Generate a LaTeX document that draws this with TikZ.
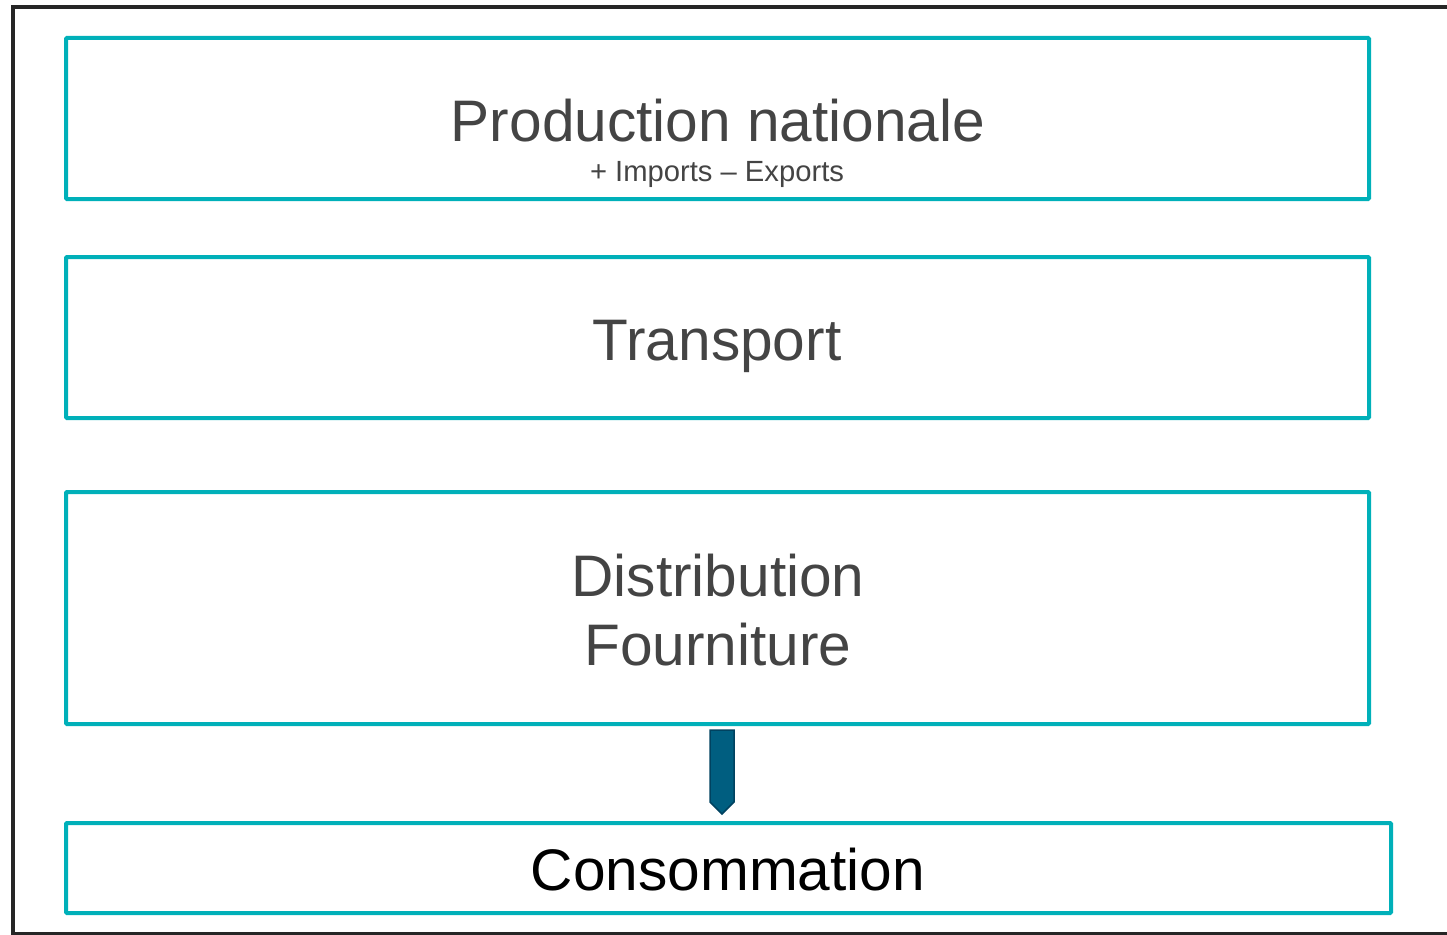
\documentclass[tikz,border=0pt]{standalone}
\usepackage{fontspec}
\setmainfont{Liberation Sans}
\definecolor{tealline}{RGB}{0,176,185}
\definecolor{txtgray}{RGB}{68,68,68}
\definecolor{framedark}{RGB}{38,38,38}
\definecolor{arrowfill}{RGB}{0,94,128}
\definecolor{arrowedge}{RGB}{0,66,96}
\begin{document}
\begin{tikzpicture}[x=1pt,y=-1pt,
  stagebox/.style={draw=tealline,line width=4pt,inner sep=0pt,rounded corners=1pt},
  bigtext/.style={font=\fontsize{58.6}{70}\selectfont,text=txtgray,anchor=base,inner sep=0pt},
  smalltext/.style={font=\fontsize{29.2}{32}\selectfont,text=txtgray,anchor=base,inner sep=0pt}]
\useasboundingbox (0,0) rectangle (1447,934);
\begin{scope}
\clip (0,0) rectangle (1447,934);
\draw[framedark,line width=4pt] (13,1500) -- (13,7.5) -- (1500,7.5);
\draw[framedark,line width=3pt] (13,933) -- (1500,933);
\end{scope}
\node[stagebox,minimum width=1303pt,minimum height=161pt] (prod) at (717.5,118.5) {};
\node[stagebox,minimum width=1303pt,minimum height=161pt] (trans) at (717.5,337.5) {};
\node[stagebox,minimum width=1303pt,minimum height=232pt] (dist) at (717.5,608) {};
\node[stagebox,minimum width=1325pt,minimum height=90pt] (cons) at (728.5,868) {};
\node[bigtext] (prodt) at (718,141) {Production nationale};
\node[smalltext] (prods) at (717,181) {+ Imports – Exports};
\node[bigtext] (transt) at (717,360) {Transport};
\node[bigtext] (distt) at (718,596) {Distribution};
\node[bigtext] (fourt) at (718,665) {Fourniture};
\node[bigtext,text=black] (const) at (728,890) {Consommation};
\coordinate (atl) at (710,730);
\coordinate (atr) at (734,730);
\coordinate (abr) at (734,802);
\coordinate (atip) at (722,814);
\coordinate (abl) at (710,802);
\draw[fill=arrowfill,draw=arrowedge,line width=1.5pt,line join=miter]
  (atl) -- (atr) -- (abr) -- (atip) -- (abl) -- cycle;
\end{tikzpicture}
\end{document}
